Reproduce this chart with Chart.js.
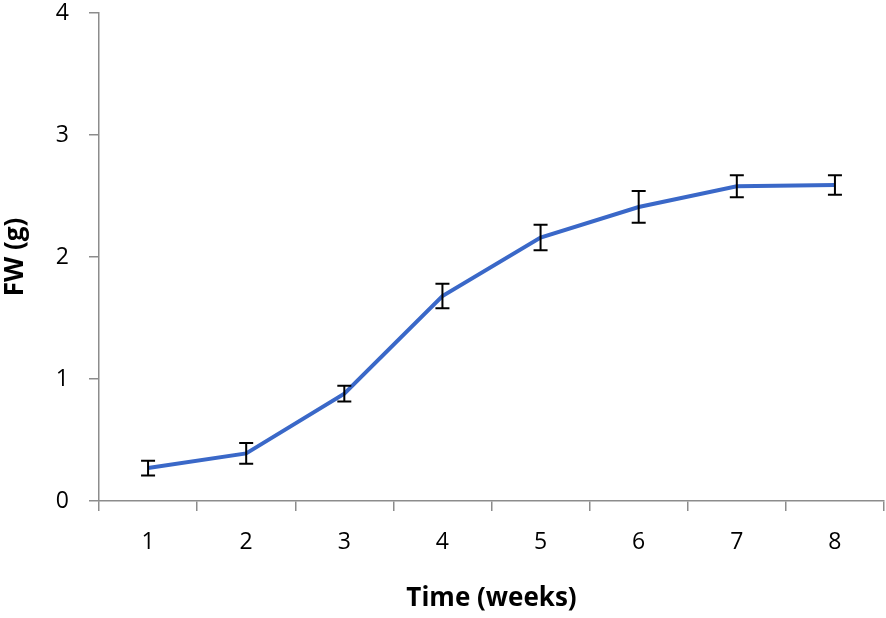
<!DOCTYPE html>
<html>
<head>
<meta charset="utf-8">
<script src="https://cdn.jsdelivr.net/npm/chart.js@4/dist/chart.umd.min.js"></script>
<style>
  html, body { margin: 0; padding: 0; background: #fff; }
  #wrap { width: 886px; height: 618px; }
</style>
</head>
<body>
<div id="wrap"><canvas id="fwChart"></canvas></div>
<script>
const weeks = ["1", "2", "3", "4", "5", "6", "7", "8"]
const fwMean = [0.27, 0.39, 0.88, 1.68, 2.16, 2.41, 2.58, 2.59]
const fwErr = [0.06, 0.085, 0.065, 0.10, 0.105, 0.13, 0.09, 0.08]
const yTicks = [0, 1, 2, 3, 4]

// draws the black error bars with caps on top of the line
const errorBars = {
    id: "errorBars",
    afterDatasetsDraw(chart) {
        const ctx = chart.ctx
        const x = chart.scales.x
        const y = chart.scales.y
        ctx.save()
        ctx.strokeStyle = "#000"
        ctx.lineWidth = 2
        fwMean.forEach((v, i) => {
            const px = x.getPixelForValue(i)
            const top = y.getPixelForValue(v + fwErr[i])
            const bot = y.getPixelForValue(v - fwErr[i])
            ctx.beginPath()
            ctx.moveTo(px, top)
            ctx.lineTo(px, bot)
            ctx.moveTo(px - 7, top)
            ctx.lineTo(px + 7, top)
            ctx.moveTo(px - 7, bot)
            ctx.lineTo(px + 7, bot)
            ctx.stroke()
        })
        ctx.restore()
    }
}

const ctx = document.getElementById("fwChart").getContext("2d")
new Chart(ctx, {
    type: "line",
    data: {
        labels: weeks,
        datasets: [
            {
                label: "FW",
                data: fwMean,
                borderColor: "#3a68c8",
                borderWidth: 4,
                pointRadius: 0,
                tension: 0,
                fill: false
            }
        ]
    },
    options: {
        responsive: true,
        maintainAspectRatio: false,
        animation: false,
        layout: { padding: { top: 13, right: 2, left: 0, bottom: 0 } },
        plugins: {
            legend: { display: false },
            tooltip: { enabled: false }
        },
        scales: {
            x: {
                offset: true,
                grid: {
                    offset: true,
                    drawOnChartArea: false,
                    drawTicks: true,
                    tickLength: 10,
                    color: "#8c8c8c",
                    lineWidth: 1.5
                },
                border: { color: "#8c8c8c", width: 1.5 },
                ticks: {
                    color: "#000",
                    padding: 18,
                    font: { family: "Open Sans", size: 23 }
                },
                title: {
                    display: true,
                    text: "Time (weeks)",
                    color: "#000",
                    padding: { top: 10 },
                    font: { family: "Open Sans", size: 26, weight: "bold" }
                },
                afterFit(scale) { scale.height = 117 }
            },
            y: {
                min: 0,
                max: 4,
                afterBuildTicks(scale) { scale.ticks = yTicks.map(v => ({ value: v })) },
                grid: {
                    drawOnChartArea: false,
                    drawTicks: true,
                    tickLength: 10,
                    color: "#8c8c8c",
                    lineWidth: 1.5
                },
                border: { color: "#8c8c8c", width: 1.5 },
                ticks: {
                    color: "#000",
                    padding: 20,
                    font: { family: "Open Sans", size: 23 }
                },
                title: {
                    display: true,
                    text: "FW (g)",
                    color: "#000",
                    padding: { top: 0, bottom: 0 },
                    font: { family: "Open Sans", size: 26, weight: "bold" }
                },
                afterFit(scale) {
                    scale.width = 99
                    scale.paddingTop = 0
                    scale.paddingBottom = 0
                }
            }
        }
    },
    plugins: [errorBars]
})
</script>
</body>
</html>
